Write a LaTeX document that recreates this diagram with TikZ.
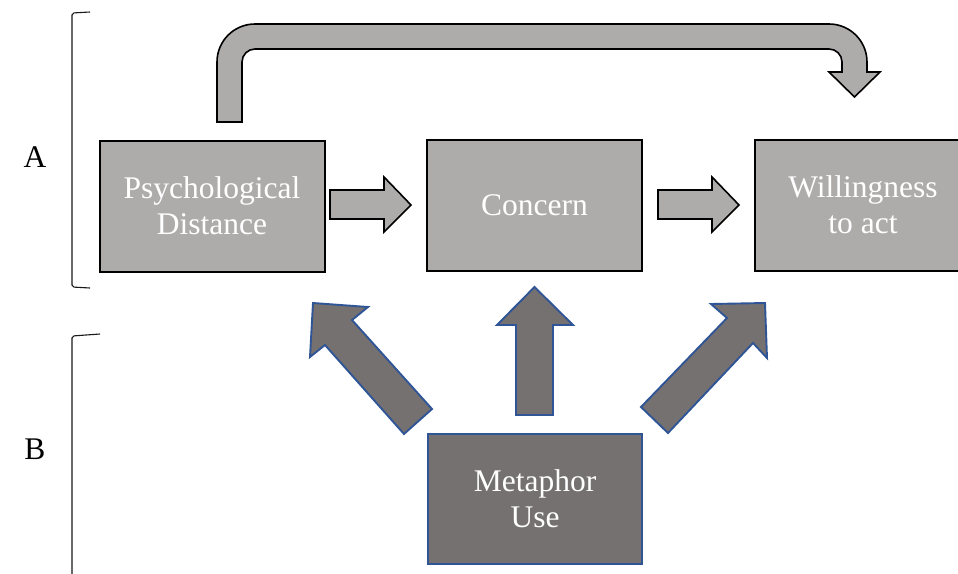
\documentclass[tikz,border=0pt]{standalone}
\usepackage{fontspec}
\setmainfont{Liberation Serif}
\definecolor{boxgray}{HTML}{AEABAB}
\definecolor{darkgray}{HTML}{767171}
\definecolor{bluedge}{HTML}{2F5597}
\begin{document}
\begin{tikzpicture}[x=1pt,y=-1pt,
  graybox/.style={draw=black, line width=2pt, fill=boxgray, text=white, align=center,
    font=\fontsize{31.5}{36}\selectfont, minimum height=131pt, inner sep=0pt},
  darkbox/.style={draw=bluedge, line width=2pt, fill=darkgray, text=white, align=center,
    font=\fontsize{31.5}{36}\selectfont, minimum height=130pt, minimum width=214pt, inner sep=0pt},
  grayarrow/.style={draw=black, line width=1.6pt, fill=boxgray, line join=miter},
  darkarrow/.style={draw=bluedge, line width=1.9pt, fill=darkgray, line join=miter},
  bracket/.style={draw=black!90, line width=1.1pt},
  lbl/.style={font=\fontsize{31.5}{36}\selectfont, inner sep=0pt}]
\useasboundingbox (0,0) rectangle (958,573);
\clip (0,0) rectangle (958,573);
\fill[white] (0,0) rectangle (958,573);

% boxes
\node[graybox, minimum width=225pt] (psy) at (212,206) {Psychological\\Distance};
\node[graybox, minimum width=215pt] (con) at (534.5,205) {Concern};
\node[graybox, minimum width=216pt] (wil) at (863,205) {Willingness\\to act};
\node[darkbox] (met) at (535,499) {Metaphor\\Use};

% labels
\node[lbl] (la) at (35,157) {A};
\node[lbl] (lb) at (35,449) {B};

% brackets
\draw[bracket, rounded corners=2pt] (90,12) -- (72,13) -- (72,287) -- (90,288);
\draw[bracket, rounded corners=2pt] (100,334) -- (72,336) -- (72,575);

% horizontal block arrows
\draw[grayarrow] (330,190) -- (384,190) -- (384,177) -- (411,205) -- (384,232) -- (384,219) -- (330,219) -- cycle;
\draw[grayarrow] (658,190) -- (712,190) -- (712,177) -- (739,205) -- (712,232) -- (712,219) -- (658,219) -- cycle;

% curved arrow
\draw[grayarrow] (217,122) -- (217,62) arc[start angle=180, end angle=270, radius=38]
  -- (829,24) arc[start angle=270, end angle=360, radius=38]
  -- (867,72) -- (880,72) -- (854.5,97) -- (829,72) -- (842,72)
  -- (842,62) arc[start angle=0, end angle=-90, radius=13]
  -- (255,49) arc[start angle=-90, end angle=-180, radius=13]
  -- (242,122) -- cycle;

% upward block arrows from Metaphor Use
\draw[darkarrow] (404,434) -- (325,345) -- (310,357) -- (313,303) -- (368,307) -- (352,320) -- (432,409) -- cycle;
\draw[darkarrow] (516,415) -- (516,325) -- (497,325) -- (534.5,287) -- (573,325) -- (553,325) -- (553,415) -- cycle;
\draw[darkarrow] (641,407) -- (727,318) -- (711,304) -- (765,303) -- (767,358) -- (753,343) -- (668,433) -- cycle;
\end{tikzpicture}
\end{document}
